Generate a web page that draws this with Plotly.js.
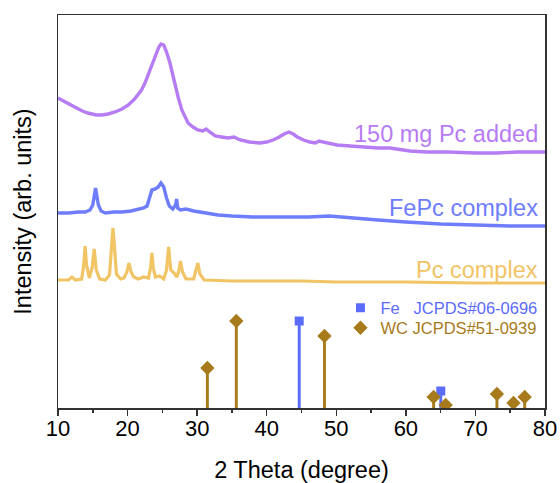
<!DOCTYPE html>
<html>
<head>
<meta charset="utf-8">
<script src="https://cdn.plot.ly/plotly-3.0.1.min.js"></script>
<style>html,body{margin:0;padding:0;background:#fff;}#chart{width:560px;height:483px;}</style>
</head>
<body>
<div id="chart"></div>
<script>
// 150 mg Pc added (offset trace, arbitrary units)
const addedX = [10.0,11.0,12.4,13.5,14.3,15.5,16.3,17.2,18.2,19.2,20.1,21.0,21.5,22.0,22.5,23.0,23.5,24.0,24.5,24.8,25.2,25.6,26.1,26.5,26.8,27.3,27.8,28.3,28.7,29.4,30.1,30.8,31.3,31.8,32.6,33.5,34.5,35.3,35.7,36.2,37.5,39.0,40.0,40.9,41.8,42.5,43.2,43.8,44.4,45.3,46.2,47.0,47.5,48.1,49.0,50.1,52.0,53.8,56.0,57.7,60.6,63.0,66.0,70.0,73.0,76.0,80.0];
const addedY = [310,306,301,297,295,293,293,294,296,299,303,309,313,318,325,334,345,353,361,364,363,356,345,333,323,310,298,290,285,281,278,277,279,276,272,271,270,271,270,268,266,265,266,268,271,274,276,274,271,268,266,265,267,266,264,263,262,261,260,260,257,256,256,255,255,256,256];

// FePc complex
const fepcX = [10.0,11.5,13.0,13.9,14.6,15.0,15.4,15.8,16.2,16.8,18.0,19.2,20.5,21.5,22.3,22.8,23.1,23.5,24.0,24.4,24.8,25.2,25.6,26.0,26.5,26.9,27.05,27.2,27.6,28.4,29.5,31.1,33.0,35.0,38.0,42.0,46.0,49.0,52.0,56.0,60.0,65.0,70.0,75.0,80.0];
const fepcY = [195,195,196,196,198,203,220,203,197,195,196,196,197,199,200,202,210,218,219,221,225,221,210,202,199,203,209,200,198,199,197,195,193,192,191,191,191,192,190,188,186,184,183,182,182];

// Pc complex
const pcX = [10.0,11.5,12.0,12.5,13.4,13.7,13.9,14.1,14.5,14.9,15.2,15.5,16.0,16.8,17.4,17.7,17.9,18.1,18.4,19.0,19.5,19.9,20.2,20.5,20.9,21.5,22.3,23.0,23.3,23.5,23.7,24.0,24.6,25.2,25.6,25.9,26.2,26.7,27.1,27.4,27.6,27.9,28.4,29.5,29.9,30.1,30.4,31.0,35.0,40.0,45.0,50.0,60.0,70.0,80.0];
const pcY = [128,128,131,128,129,143,162,143,130,140,159,138,129,128,133,163,180,163,134,129,130,136,145,136,131,129,131,130,140,155,140,131,132,129,138,161,138,135,131,138,147,136,129,129,138,145,134,128,127,127,127,126,126,125,125];

// Reference patterns
const fePos = [44.67, 65.02];
const feInt = [87, 17];
const wcPos = [31.47, 35.63, 48.30, 63.99, 65.72, 73.09, 75.47, 77.08];
const wcInt = [40, 87, 72, 11, 3, 14, 5, 11];

const labels = ["150 mg Pc added", "FePc complex", "Pc complex"];
const labelY = [274, 200, 138.5];
const legendNames = ["Fe\u00A0\u00A0\u00A0JCPDS#06-0696", "WC JCPDS#51-0939"];

const cPurple = "#b67cf4", cBlue = "#6e7dfb", cYellow = "#f1c466", cBrown = "#a77b1b", cFe = "#5b6cfb";
const FONT = "Arial, 'Liberation Sans', sans-serif";

const traces = [
  {x: addedX, y: addedY, mode: "lines", line: {color: cPurple, width: 3.4}, showlegend: false, hoverinfo: "skip"},
  {x: fepcX, y: fepcY, mode: "lines", line: {color: cBlue, width: 3.4}, showlegend: false, hoverinfo: "skip"},
  {x: pcX, y: pcY, mode: "lines", line: {color: cYellow, width: 3.2}, showlegend: false, hoverinfo: "skip"},
  {type: "bar", x: fePos, y: feInt, width: 0.42, marker: {color: cFe, line: {width: 0}}, showlegend: false, hoverinfo: "skip"},
  {type: "bar", x: wcPos, y: wcInt, width: 0.42, marker: {color: cBrown, line: {width: 0}}, showlegend: false, hoverinfo: "skip"},
  {x: fePos, y: feInt, mode: "markers", marker: {symbol: "square", size: 9, color: cFe}, legend: "legend",
   name: '<span style="color:' + cFe + '">' + legendNames[0] + '</span>'},
  {x: wcPos, y: wcInt, mode: "markers", marker: {symbol: "diamond", size: 11, color: cBrown}, legend: "legend2",
   name: '<span style="color:' + cBrown + '">' + legendNames[1] + '</span>'}
];

const labelColors = [cPurple, cBlue, cYellow];
const annotations = labels.map((t, i) => ({
  x: 80, y: labelY[i], xref: "x", yref: "y", text: t, showarrow: false,
  xanchor: "right", yanchor: "middle", xshift: -5,
  font: {family: FONT, size: 23.5, color: labelColors[i]}
}));

const legendBase = {xanchor: "left", yanchor: "middle", bgcolor: "rgba(0,0,0,0)",
  font: {family: FONT, size: 16.5}, itemwidth: 30, borderwidth: 0};

const layout = {
  width: 560, height: 483,
  margin: {l: 58, r: 15, t: 15, b: 75},
  paper_bgcolor: "#fff", plot_bgcolor: "#fff",
  font: {family: FONT, color: "#000"},
  barmode: "overlay",
  showlegend: true,
  legend: Object.assign({}, legendBase, {x: 0.58, y: (408 - 308) / 393}),
  legend2: Object.assign({}, legendBase, {x: 0.58, y: (408 - 328) / 393}),
  xaxis: {
    range: [10, 80], dtick: 10, tick0: 10,
    showline: true, linecolor: "#333", linewidth: 1.5, mirror: true,
    ticks: "outside", ticklen: 6, tickwidth: 1.5, tickcolor: "#333",
    minor: {dtick: 5, ticks: "outside", ticklen: 3.5, tickwidth: 1.5, tickcolor: "#333"},
    showgrid: false, zeroline: false,
    ticklabelstandoff: -6,
    tickfont: {family: FONT, size: 22, color: "#000"},
    title: {text: "2 Theta (degree)", font: {family: FONT, size: 23.5, color: "#000"}, standoff: 22}
  },
  yaxis: {
    range: [0, 393],
    showline: true, linecolor: "#333", linewidth: 1.5, mirror: true,
    ticks: "", showticklabels: false, showgrid: false, zeroline: false,
    title: {text: "Intensity (arb. units)", font: {family: FONT, size: 23.5, color: "#000"}, standoff: 18}
  },
  annotations: annotations
};

Plotly.newPlot("chart", traces, layout, {staticPlot: true, displayModeBar: false});
</script>
</body>
</html>
